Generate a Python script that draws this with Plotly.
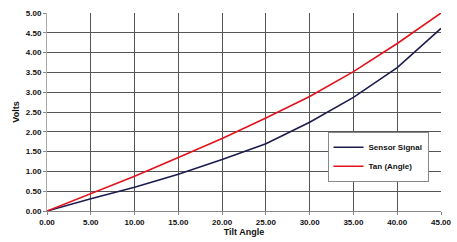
import plotly.graph_objects as go

tilt_angle = [0, 5, 10, 15, 20, 25, 30, 35, 40, 45]
sensor_signal = [0.00, 0.31, 0.60, 0.93, 1.30, 1.70, 2.24, 2.87, 3.62, 4.61]
tan_angle = [0.00, 0.44, 0.88, 1.35, 1.83, 2.35, 2.89, 3.52, 4.23, 5.00]

x_ticks = [0, 5, 10, 15, 20, 25, 30, 35, 40, 45]
y_ticks = [0, 0.5, 1, 1.5, 2, 2.5, 3, 3.5, 4, 4.5, 5]

font_family = "Liberation Sans, Arial, sans-serif"

fig = go.Figure()
fig.add_trace(go.Scatter(x=tilt_angle, y=sensor_signal, mode="lines",
                         name="Sensor Signal",
                         line=dict(color="#1c1c4e", width=1.6)))
fig.add_trace(go.Scatter(x=tilt_angle, y=tan_angle, mode="lines",
                         name="Tan (Angle)",
                         line=dict(color="#e3121c", width=1.6)))

fig.update_layout(
    width=457, height=242,
    margin=dict(l=47, r=16, t=13, b=31),
    paper_bgcolor="white", plot_bgcolor="white",
    font=dict(family=font_family, size=8, color="#111111", weight="bold"),
    showlegend=True,
    legend=dict(x=0.712, y=0.40, xanchor="left", yanchor="top",
                bgcolor="white", bordercolor="#888888", borderwidth=1,
                font=dict(size=8, weight="bold"),
                tracegroupgap=0, itemwidth=30),
    xaxis=dict(range=[0, 45], tickvals=x_ticks,
               ticktext=[f"{v:.2f}" for v in x_ticks],
               automargin=False,
               showgrid=True, gridcolor="#555555", gridwidth=1,
               showline=True, linecolor="#888888", linewidth=1,
               ticks="outside", ticklen=3, tickcolor="#888888",
               zeroline=False,
               title=dict(text="Tilt Angle", standoff=2,
                          font=dict(size=9, weight="bold"))),
    yaxis=dict(range=[0, 5], tickvals=y_ticks,
               ticktext=[f"{v:.2f}" for v in y_ticks],
               automargin=False,
               showgrid=True, gridcolor="#555555", gridwidth=1,
               showline=True, linecolor="#aaaaaa", linewidth=1,
               ticks="outside", ticklen=3, tickcolor="#888888",
               zeroline=False,
               title=dict(text="Volts", standoff=4,
                          font=dict(size=9, weight="bold"))),
)

fig.write_html("out.html")
